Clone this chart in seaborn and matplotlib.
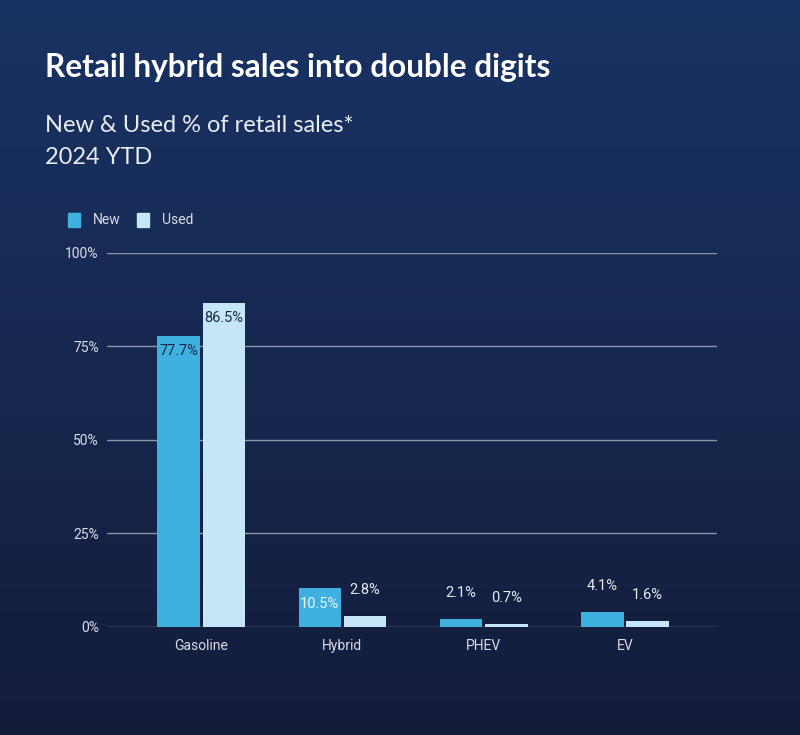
import numpy as np
import pandas as pd
import matplotlib
matplotlib.use("Agg")
import matplotlib.pyplot as plt
import seaborn as sns

# data
categories = ["Gasoline", "Hybrid", "PHEV", "EV"]
new_share = [77.7, 10.5, 2.1, 4.1]
used_share = [86.5, 2.8, 0.7, 1.6]
series = ["New", "Used"]
y_ticks = [0, 25, 50, 75, 100]

df = pd.DataFrame({
    "type": categories * 2,
    "share": new_share + used_share,
    "series": ["New"] * len(categories) + ["Used"] * len(categories),
})

sns.set_theme(style="white")
plt.rcParams["font.family"] = ["Roboto", "DejaVu Sans"]

fig = plt.figure(figsize=(8, 7.35), dpi=100)

# background gradient
bg = fig.add_axes([0, 0, 1, 1], zorder=-10)
grad = np.linspace(0, 1, 256).reshape(-1, 1)
top = np.array([25, 51, 100]) / 255
bot = np.array([20, 28, 58]) / 255
img = top + (bot - top) * grad[..., None]
bg.imshow(img, aspect="auto", extent=[0, 1, 0, 1])
bg.axis("off")

ax = fig.add_axes([0.134, 0.147, 0.762, 0.509])
ax.set_facecolor("none")

palette = {"New": "#3eb1e1", "Used": "#c4e6f6"}
sns.barplot(data=df, x="type", y="share", hue="series", hue_order=series,
            palette=palette, width=0.64, gap=0.06, ax=ax, legend=False,
            saturation=1, linewidth=0)

ax.set_xlim(-0.665, 3.65)
ax.set_ylim(0, 100)
ax.set_yticks(y_ticks)
ax.set_yticklabels([f"{t}%" for t in y_ticks])
ax.yaxis.grid(True, color="#8d95aa", linewidth=1)
ax.set_axisbelow(True)
ax.tick_params(axis="both", length=0, labelsize=10, colors="#d9dde6")
ax.tick_params(axis="x", pad=9)
ax.tick_params(axis="y", pad=6)
ax.set_xlabel("")
ax.set_ylabel("")
for s in ax.spines.values():
    s.set_visible(False)

# value labels
for cont, vals in zip(ax.containers, [new_share, used_share]):
    for bar, v in zip(cont, vals):
        x = bar.get_x() + bar.get_width() / 2
        if v > 50:
            ax.annotate(f"{v}%", (x, v), xytext=(0, -15), textcoords="offset pixels",
                        ha="center", va="center", fontsize=10.5, color="#1d2a42")
        elif v > 10:
            ax.annotate(f"{v}%", (x, v), xytext=(0, -16), textcoords="offset pixels",
                        ha="center", va="center", fontsize=10.5, color="#eef2f8")
        else:
            ax.annotate(f"{v}%", (x, v), xytext=(0, 26), textcoords="offset pixels",
                        ha="center", va="center", fontsize=10.5, color="#e6eaf2")

# legend
for i, (name, xs) in enumerate(zip(series, [0.085, 0.171])):
    fig.patches.append(plt.Rectangle((xs, 1 - 227 / 735), 0.015, 14 / 735,
                                     transform=fig.transFigure, color=palette[name]))
    fig.text(xs + 0.031, 1 - 220 / 735, name, fontsize=10, color="#d9dde6", va="center")

# titles
fig.text(0.056, 1 - 68 / 735, "Retail hybrid sales into double digits",
         fontsize=22.8, fontweight="bold", color="white", va="center",
         family=["Lato", "DejaVu Sans"])
fig.text(0.056, 1 - 125 / 735, "New & Used % of retail sales*",
         fontsize=17, color="#e8ecf3", va="center",
         family=["Lato", "DejaVu Sans"])
fig.text(0.056, 1 - 158 / 735, "2024 YTD",
         fontsize=17, color="#e8ecf3", va="center",
         family=["Lato", "DejaVu Sans"])

fig.savefig("out.png", dpi=100)
